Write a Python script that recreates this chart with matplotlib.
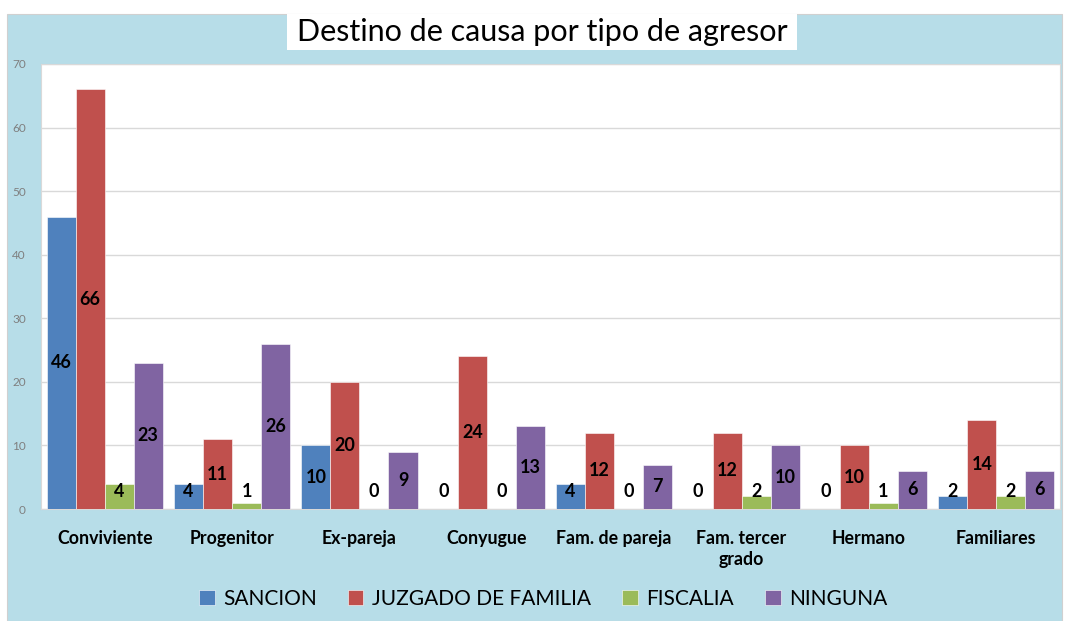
import matplotlib
matplotlib.use("Agg")
import matplotlib.pyplot as plt
from matplotlib.patches import Rectangle
import numpy as np

categories = ["Conviviente", "Progenitor", "Ex-pareja", "Conyugue", "Fam. de pareja",
              "Fam. tercer\ngrado", "Hermano", "Familiares"]
series_names = ["SANCION", "JUZGADO DE FAMILIA", "FISCALIA", "NINGUNA"]
sancion = [46, 4, 10, 0, 4, 0, 0, 2]
juzgado = [66, 11, 20, 24, 12, 12, 10, 14]
fiscalia = [4, 1, 0, 0, 0, 2, 1, 2]
ninguna = [23, 26, 9, 13, 7, 10, 6, 6]
yticks = [0, 10, 20, 30, 40, 50, 60, 70]
title = "Destino de causa por tipo de agresor"

colors = ["#4F81BD", "#C0504D", "#9BBB59", "#8064A2"]
bg = "#B7DDE8"
FONT = "Lato"

W, H = 1065, 621
fig = plt.figure(figsize=(W / 100, H / 100), dpi=100)
fig.patch.set_facecolor("white")

def fx(px):
    return px / W

def fy(py):
    return 1 - py / H

# blue chart frame
fig.patches.append(Rectangle((fx(7), fy(621)), fx(1062) - fx(7), fy(14) - fy(621),
                             transform=fig.transFigure, facecolor=bg,
                             edgecolor="#D0D0D0", linewidth=0.8, zorder=-3))
# title box
fig.patches.append(Rectangle((fx(287), fy(50)), fx(797) - fx(287), fy(14) - fy(50),
                             transform=fig.transFigure, facecolor="white",
                             edgecolor="none", zorder=-2))
fig.text(fx(542), fy(32), title, ha="center", va="center", fontsize=22,
         family=FONT, color="black", zorder=2)

ax = fig.add_axes([fx(41), fy(509), fx(1060) - fx(41), fy(64) - fy(509)])
ax.set_zorder(1)
ax.set_facecolor("white")

x = np.arange(len(categories))
w = 0.228
data = [sancion, juzgado, fiscalia, ninguna]
for k, (vals, c, name) in enumerate(zip(data, colors, series_names)):
    xs = x + (k - 1.5) * w
    ax.bar(xs, vals, width=w, color=c, edgecolor="white", linewidth=0.4,
           label=name, zorder=3)
    for xi, v in zip(xs, vals):
        ax.text(xi, max(v / 2, 2.8), str(v), ha="center", va="center",
                fontsize=13, fontweight="bold", family=FONT, color="black", zorder=4)

ax.set_xlim(-0.5, len(categories) - 0.5)
ax.set_ylim(0, 70)
ax.set_yticks(yticks)
ax.set_yticklabels([str(t) for t in yticks], family=FONT, fontsize=8.5, color="#7F7F7F")
ax.yaxis.grid(True, color="#D9D9D9", linewidth=1, zorder=0)
ax.set_axisbelow(True)
ax.tick_params(axis="y", length=0, pad=11)
ax.set_xticks(x)
ax.set_xticklabels(categories, family=FONT, fontsize=12.8, fontweight="bold",
                   color="black", linespacing=1.3, va="top")
ax.tick_params(axis="x", length=0, pad=15)
for s in ["top", "right", "left", "bottom"]:
    ax.spines[s].set_color("#D9D9D9")

leg = fig.legend(loc="center", bbox_to_anchor=(fx(543), fy(599)), ncol=4,
                 frameon=False, prop={"family": FONT, "size": 15},
                 handlelength=0.75, handleheight=0.75, handletextpad=0.4,
                 columnspacing=1.5)

fig.savefig("out.png", dpi=100, facecolor=fig.get_facecolor())
